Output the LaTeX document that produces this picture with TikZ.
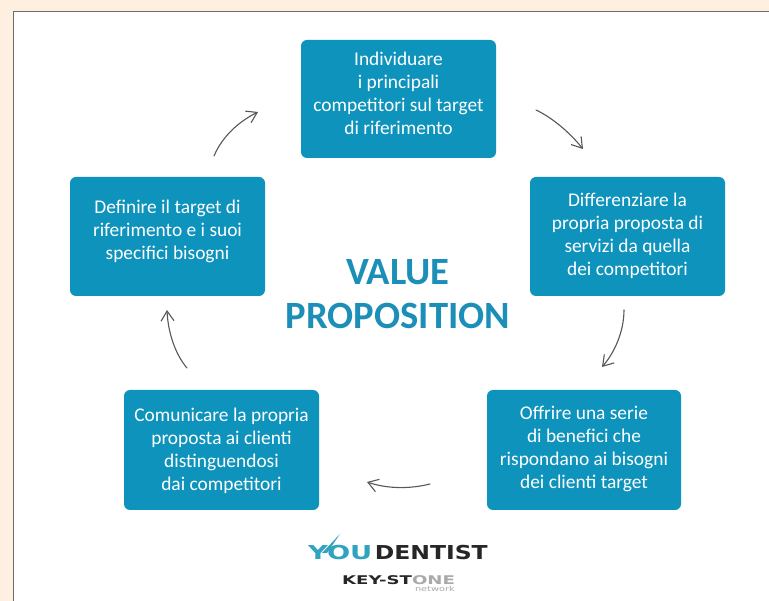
\documentclass[tikz,border=0pt]{standalone}
\usepackage{fontspec}
\setmainfont{Carlito}
\newfontfamily\logofont{DejaVu Sans}
\usetikzlibrary{arrows.meta}
\definecolor{cream}{HTML}{FDF0E0}
\definecolor{boxblue}{HTML}{0E93BC}
\definecolor{titleblue}{HTML}{1B8FB8}
\definecolor{arrowgrey}{HTML}{5A5557}
\definecolor{framegrey}{HTML}{6E6A66}
\definecolor{logoblue}{HTML}{2FA3BF}
\definecolor{logogrey}{HTML}{A9A9A9}
\newcommand{\stagetext}[2]{\smash{\raisebox{#1}{\parbox{192pt}{\centering #2}}}}
\tikzset{
  stagebox/.style={fill=boxblue,draw=none,rounded corners=6pt,text=white,
    font=\fontsize{19.4}{23}\selectfont,inner sep=0pt,anchor=center},
  handarrow/.style={draw=arrowgrey,line width=1.1pt,line cap=round,-{Straight Barb[length=10pt,width=13pt,line width=1.1pt]}}
}
\begin{document}
\begin{tikzpicture}[x=1pt,y=-1pt]
\useasboundingbox (0,0) rectangle (769,601);
\fill[cream] (0,0) rectangle (769,601);
\fill[white] (13,11) rectangle (769,601);
\draw[framegrey,line width=1pt] (13.5,601) -- (13.5,11.5) -- (769,11.5);

\node[stagebox,minimum width=195pt,minimum height=118pt] (b1) at (398.5,99) {\stagetext{0pt}{Individuare\\i principali\\competitori sul target\\di riferimento}};
\node[stagebox,minimum width=195pt,minimum height=119pt] (b2) at (627.5,236.5) {\stagetext{-5pt}{Differenziare la\\propria proposta di\\servizi da quella\\dei competitori}};
\node[stagebox,minimum width=194pt,minimum height=120pt] (b3) at (584,450) {\stagetext{-4.5pt}{Offrire una serie\\di benefici che\\rispondano ai bisogni\\dei clienti target}};
\node[stagebox,minimum width=195pt,minimum height=120pt] (b4) at (221.5,450) {\stagetext{-6pt}{Comunicare la propria\\proposta ai clienti\\distinguendosi\\dai competitori}};
\node[stagebox,minimum width=195pt,minimum height=119pt] (b5) at (167.5,236.5) {\stagetext{-0.5pt}{Definire il target di\\riferimento e i suoi\\specifici bisogni}};

\node[text=titleblue,align=center,font=\fontsize{38.6}{44}\selectfont\bfseries,inner sep=0pt] (title) at (398,294) {VALUE\\PROPOSITION};

\coordinate (a1s) at (536,110); \coordinate (a1e) at (583,149);
\coordinate (a2s) at (624,310); \coordinate (a2e) at (602,367);
\coordinate (a3s) at (430,484); \coordinate (a3e) at (367,482);
\coordinate (a4s) at (187,368); \coordinate (a4e) at (167,310);
\coordinate (a5s) at (214,156); \coordinate (a5e) at (258,112);
\draw[handarrow] (a1s) .. controls (553,118) and (570,133) .. (a1e);
\draw[handarrow] (a2s) .. controls (624,331) and (615,352) .. (a2e);
\draw[handarrow] (a3s) .. controls (410,489) and (388,489) .. (a3e);
\draw[handarrow] (a4s) .. controls (175,354) and (168,332) .. (a4e);
\draw[handarrow] (a5s) .. controls (222,137) and (238,122) .. (a5e);

\fill[logoblue] (322,553) -- (340,534) -- (327,553) -- cycle;
\node[inner sep=0pt,anchor=west] (logoa) at (308,552.5) {\logofont\bfseries\fontsize{14}{14}\selectfont\color{logoblue}\scalebox{1.95}[1.37]{YOU}};
\node[inner sep=0pt,anchor=east] (logob) at (488,552.5) {\logofont\bfseries\fontsize{14}{14}\selectfont\color{black!85}\scalebox{1.68}[1.37]{DENTIST}};
\node[inner sep=0pt,anchor=west] (logoc) at (342,580) {\logofont\bfseries\fontsize{12}{12}\selectfont\color{black!85}\scalebox{1.51}[1]{KEY-ST\textcolor{logogrey}{ONE}}};
\node[inner sep=0pt,anchor=east,text=logogrey] (logod) at (455,588.5) {\logofont\fontsize{7}{7}\selectfont\scalebox{1.4}[1]{network}};
\end{tikzpicture}
\end{document}
